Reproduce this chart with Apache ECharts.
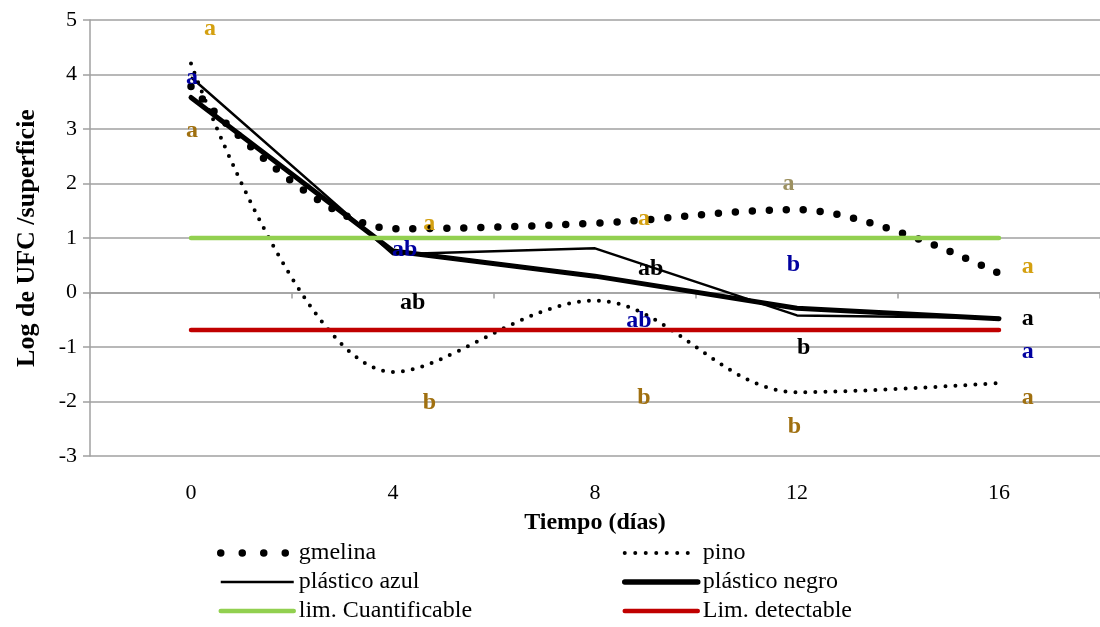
<!DOCTYPE html>
<html>
<head>
<meta charset="utf-8">
<script src="https://cdn.jsdelivr.net/npm/echarts@6/dist/echarts.min.js"></script>
<style>
html,body{margin:0;padding:0;background:#fff;}
#chart{width:1100px;height:627px;}
</style>
</head>
<body>
<div id="chart"></div>
<script>
const days = ['0', '4', '8', '12', '16'];
const gmelina = [3.78, 1.17, 1.27, 1.52, 0.35];
const pino = [4.2, -1.46, -0.15, -1.83, -1.66];
const plasticoAzul = [3.95, 0.7, 0.81, -0.42, -0.47];
const plasticoNegro = [3.58, 0.76, 0.3, -0.29, -0.48];
const limCuantificable = [1, 1, 1, 1, 1];
const limDetectable = [-0.69, -0.69, -0.69, -0.69, -0.69];
const yTicks = [-3, -2, -1, 0, 1, 2, 3, 4, 5];

// significance letters: x (días), y (log), text, colour key
const letterX = [0.375, 0.02, 0.02, 4.72, 4.23, 4.39, 4.72, 8.97, 9.1, 8.87, 8.97, 11.83, 11.93, 12.13, 11.95, 16.57, 16.57, 16.57, 16.57];
const letterY = [4.83, 3.94, 2.97, 1.26, 0.78, -0.19, -2.03, 1.35, 0.43, -0.52, -1.94, 1.99, 0.5, -1.02, -2.47, 0.47, -0.49, -1.09, -1.94];
const letterText = ['a', 'a', 'a', 'a', 'ab', 'ab', 'b', 'a', 'ab', 'ab', 'b', 'a', 'b', 'b', 'b', 'a', 'a', 'a', 'a'];
const letterGroup = ['gold', 'blue', 'brown', 'gold', 'blue', 'black', 'brown', 'gold', 'black', 'blue', 'brown', 'olive', 'blue', 'black', 'brown', 'gold', 'black', 'blue', 'brown'];
const letterColors = { gold: '#D4A010', blue: '#0000A0', brown: '#A07010', black: '#000000', olive: '#9C9060' };

const serif = 'Liberation Serif';

const chart = echarts.init(document.getElementById('chart'), null, { renderer: 'canvas' });

const letterData = letterX.map((x, i) => ({
  value: [x, letterY[i]],
  name: letterText[i],
  label: { color: letterColors[letterGroup[i]] }
}));

const legendText = { fontFamily: serif, fontSize: 24, color: '#000', lineHeight: 24 };
const hiddenSymbol = { color: 'transparent', borderColor: 'transparent', borderWidth: 0 };

const option = {
  backgroundColor: '#ffffff',
  animation: false,
  grid: { left: 90, right: -2, top: 20, bottom: 171, containLabel: false },
  legend: [
    {
      orient: 'vertical', left: 217, top: 541, padding: 0, itemWidth: 73, itemHeight: 12, itemGap: 5,
      textStyle: legendText, itemStyle: hiddenSymbol,
      data: [
        { name: 'gmelina', lineStyle: { color: '#000', width: 7.5, type: [0, 21.5], cap: 'round' } },
        { name: 'plástico azul', lineStyle: { color: '#000', width: 2.5 } },
        { name: 'lim. Cuantificable', lineStyle: { color: '#92D050', width: 4.5, cap: 'round' } }
      ]
    },
    {
      orient: 'vertical', left: 622, top: 541, padding: 0, itemWidth: 73, itemHeight: 12, itemGap: 5,
      textStyle: legendText, itemStyle: hiddenSymbol,
      data: [
        { name: 'pino', lineStyle: { color: '#000', width: 4, type: [0, 10.5], cap: 'round' } },
        { name: 'plástico negro', lineStyle: { color: '#000', width: 5.5, cap: 'round' } },
        { name: 'Lim. detectable', lineStyle: { color: '#C00000', width: 4.5, cap: 'round' } }
      ]
    }
  ],
  xAxis: [
    {
      type: 'category', data: days, position: 'bottom', boundaryGap: true,
      axisLine: { show: false, onZero: false }, axisTick: { show: false },
      axisLabel: { fontFamily: serif, fontSize: 22, color: '#000', margin: 26 },
      name: 'Tiempo (días)', nameLocation: 'middle', nameGap: 55,
      nameTextStyle: { fontFamily: serif, fontSize: 24, fontWeight: 'bold', color: '#000' },
      splitLine: { show: false }
    },
    {
      type: 'category', data: days, position: 'top', boundaryGap: true,
      axisLine: { show: true, onZero: true, lineStyle: { color: '#a0a0a0', width: 1.5 } },
      axisTick: { show: true, inside: true, length: 6, lineStyle: { color: '#a0a0a0', width: 1.5 } },
      axisLabel: { show: false }, splitLine: { show: false }
    },
    {
      type: 'value', min: -2, max: 18, show: false,
      axisLine: { show: false, onZero: false }, splitLine: { show: false }
    }
  ],
  yAxis: {
    type: 'value', min: -3, max: 5, interval: 1,
    axisLine: { show: true, onZero: false, lineStyle: { color: '#a0a0a0', width: 1.5 } },
    axisTick: { show: true, length: 7, lineStyle: { color: '#a0a0a0', width: 1.5 } },
    axisLabel: { fontFamily: serif, fontSize: 22, color: '#000', margin: 13,
      formatter: v => (yTicks.indexOf(v) >= 0 ? String(v) : '') },
    splitLine: { show: true, lineStyle: { color: '#a0a0a0', width: 1.5 } },
    name: 'Log de UFC /superficie', nameLocation: 'middle', nameGap: 50, nameRotate: 90,
    nameTextStyle: { fontFamily: serif, fontSize: 26, fontWeight: 'bold', color: '#000' }
  },
  series: [
    {
      name: 'gmelina', type: 'line', data: gmelina, smooth: 0.35, symbol: 'none',
      lineStyle: { color: '#000', width: 7.5, type: [0, 17], cap: 'round' },
      itemStyle: { color: '#000' }, z: 2
    },
    {
      name: 'pino', type: 'line', data: pino, smooth: 0.35, symbol: 'none',
      lineStyle: { color: '#000', width: 4, type: [0, 10], cap: 'round' },
      itemStyle: { color: '#000' }, z: 2
    },
    {
      name: 'plástico azul', type: 'line', data: plasticoAzul, symbol: 'none',
      lineStyle: { color: '#000', width: 2.5 }, itemStyle: { color: '#000' }, z: 2
    },
    {
      name: 'plástico negro', type: 'line', data: plasticoNegro, symbol: 'none',
      lineStyle: { color: '#000', width: 5, cap: 'round' }, itemStyle: { color: '#000' }, z: 2
    },
    {
      name: 'lim. Cuantificable', type: 'line', data: limCuantificable, symbol: 'none',
      lineStyle: { color: '#92D050', width: 4.5, cap: 'round' }, itemStyle: { color: '#92D050' }, z: 3
    },
    {
      name: 'Lim. detectable', type: 'line', data: limDetectable, symbol: 'none',
      lineStyle: { color: '#C00000', width: 4.5, cap: 'round' }, itemStyle: { color: '#C00000' }, z: 3
    },
    {
      name: 'letras', type: 'scatter', xAxisIndex: 2, data: letterData,
      symbol: 'circle', symbolSize: 0, itemStyle: { color: '#000', opacity: 1 }, z: 5, silent: true,
      label: {
        show: true, position: 'inside', formatter: p => p.name, opacity: 1,
        fontFamily: serif, fontSize: 24, fontWeight: 'bold', textBorderWidth: 0, textShadowBlur: 0
      }
    }
  ]
};
chart.setOption(option);
</script>
</body>
</html>
